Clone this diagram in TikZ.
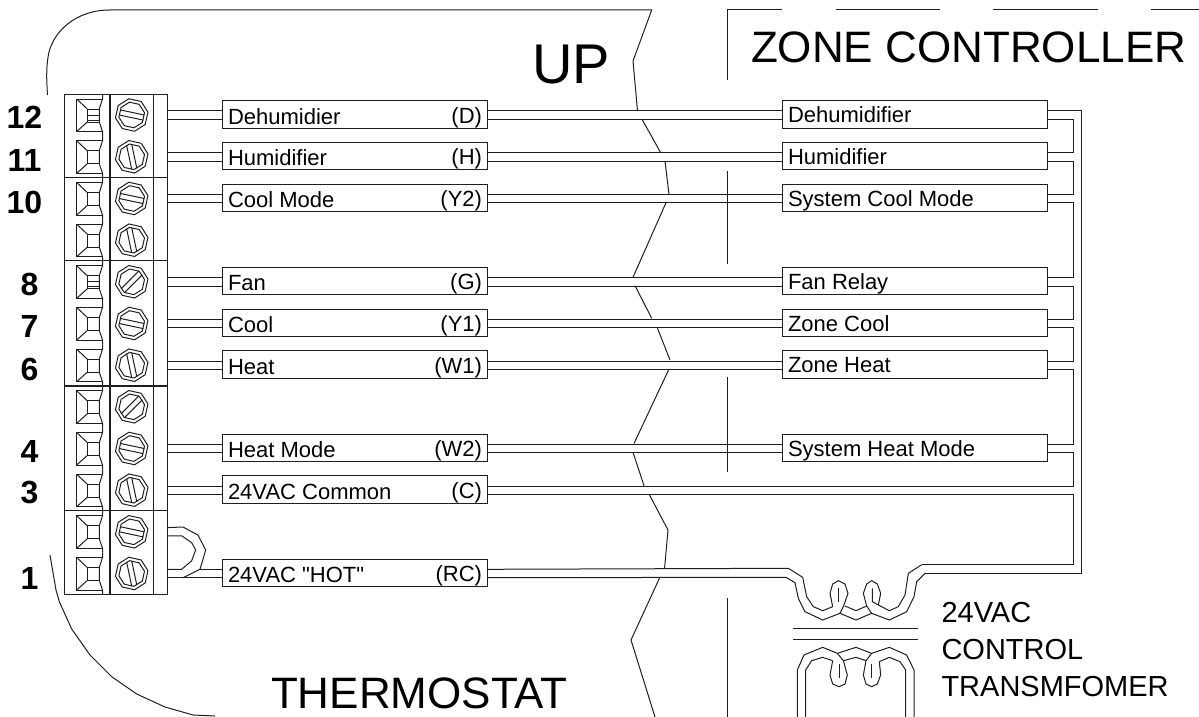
\documentclass[tikz,border=0pt]{standalone}
\usepackage{fontspec}
\setmainfont[Ligatures=TeXOff]{Liberation Sans}
\usetikzlibrary{calc}
\definecolor{ink}{gray}{0.12}
\tikzset{
  x=1pt,y=-1pt,
  every path/.style={line width=1pt,line join=miter},
  lbox/.style={draw=ink,line width=1pt,minimum width=265pt,minimum height=27.5pt,inner sep=0pt,outer sep=0pt},
  lab/.style={inner sep=0pt,outer sep=0pt,text=black,font=\fontsize{22}{24}\selectfont},
  big/.style={inner sep=0pt,outer sep=0pt,text=black,font=\fontsize{44}{48}\selectfont},
  xfmr/.style={inner sep=0pt,outer sep=0pt,text=black,font=\fontsize{29}{32}\selectfont},
  num/.style={inner sep=0pt,outer sep=0pt,text=black,font=\fontsize{32}{34}\selectfont\bfseries},
  screw/.pic={
    \draw[rotate=10] (0:16.5)--(45:16.5)--(90:16.5)--(135:16.5)--(180:16.5)--(225:16.5)--(270:16.5)--(315:16.5)--cycle;
    \draw[rotate=10] (0:13)--(45:13)--(90:13)--(135:13)--(180:13)--(225:13)--(270:13)--(315:13)--cycle;
    \draw[rotate=#1] (-12.5,-2.6)--(12.5,-2.6) (-12.5,2.6)--(12.5,2.6);
  },
  cell/.pic={
    \draw (102.5,-16)--(76.7,-16)--(76.7,16.5)--(102.5,16.5);
    \draw (102.5,-20.8)--(102.5,-16)--(99.3,-6)--(99.3,7)--(102.5,16.5)--(102.5,20.8);
    \draw (99.3,-6)--(87.3,-6)--(87.3,7)--(99.3,7);
    \draw (76.7,-16)--(87.3,-6) (76.7,16.5)--(87.3,7);
  }
}
\begin{document}
\begin{tikzpicture}[color=ink]
\useasboundingbox (0,0) rectangle (1199,717);

% thermostat outline
\draw (110,10)--(651.7,10)--(633,61)--(637.5,111);
\draw (47.5,95) .. controls (46.5,80) and (46,65) .. (49,52) .. controls (54,32) and (75,10) .. (110,10);
\draw (50,555)--(56,590)--(59.3,601.7)--(71.7,629)--(90,655)--(111.7,676.7)--(136.7,694)--(165,707)--(193,715)--(215,716);
% break line
\draw (642,119.3)--(660.7,152.7);
\draw (665,161)--(669,194.3);
\draw (666,202.7)--(633,277.3);
\draw (635,285.7)--(651.7,318.3);
\draw (657,327)--(670,360);
\draw (669,369)--(634,443.5);
\draw (633,452.3)--(644,485.7);
\draw (649,494)--(668,530)--(664.5,569);
\draw (660,577)--(631,640)--(655,717);
% zone controller edge
\draw (782,10)--(727,10)--(727,80);
\draw (835.5,10)--(940,10);
\draw (993,10)--(1098,10);
\draw (1151,10)--(1199,10);
\draw (727,171)--(727,264);
\draw (727,377)--(727,472);
\draw (727,598)--(727,717);

% terminal block
\node[draw=ink,line width=1pt,minimum width=103pt,minimum height=500pt,inner sep=0pt] (tb) at (115.5,344.2) {};
\draw[line width=1.3pt] (110,94.2)--(110,594.2);
\draw (153.7,94.2)--(153.7,594.2);
\foreach \d in {177.7,260.7,386,510.7}{\draw[line width=1.2pt] (64,\d)--(167,\d);}
\foreach \y/\a in {115/-12,156.8/-78,198.5/-12,240.2/-78,281.8/45,323.5/-12,365.2/-78,406.8/45,448.5/-12,490.2/-78,531.8/-12,573.5/-78}{
  \pic at (0,\y) {cell};
  \pic at (131.7,\y) {screw=\a};
}
\draw (87.3,115)--(99.3,115) (87.3,120)--(99.3,120);
\draw (87.3,281.8)--(99.3,281.8) (87.3,286.8)--(99.3,286.8);

% terminal numbers
\node[num] (n12) at (24.5,117) {12};
\node[num] (n11) at (24.5,160) {11};
\node[num] (n10) at (24.5,202) {10};
\node[num] (n8) at (29.5,284) {8};
\node[num] (n7) at (29.5,326) {7};
\node[num] (n6) at (29.5,369) {6};
\node[num] (n4) at (29.5,451) {4};
\node[num] (n3) at (29.5,493) {3};
\node[num] (n1) at (29.5,578) {1};

% left boxes with labels
\foreach \n/\y/\t/\c in {12/115/Dehumidier/(D),11/156.8/Humidifier/(H),10/198.5/Cool Mode/(Y2),8/281.8/Fan/(G),7/323.5/Cool/(Y1),6/365.2/Heat/(W1),4/448.5/Heat Mode/(W2),3/490.2/24VAC Common/(C),1/573.5/24VAC "HOT"/(RC)}{
  \coordinate (t\n) at (167,\y-0.6);
  \node[lbox] (l\n) at (354.5,\y-0.6) {};
  \node[lab,anchor=base west] (lt\n) at (228,\y+9) {\t};
  \node[lab,anchor=base east] (lc\n) at (482,\y+8) {\c};
}
% right boxes
\foreach \n/\y/\t in {12/115/Dehumidifier,11/156.8/Humidifier,10/198.5/System Cool Mode,8/281.8/Fan Relay,7/323.5/Zone Cool,6/365.2/Zone Heat,4/448.5/System Heat Mode}{
  \node[lbox] (r\n) at (914.5,\y-0.6) {};
  \node[lab,anchor=base west] (rt\n) at (788,\y+7.5) {\t};
  \draw ([yshift=3.6pt]l\n.east)--([yshift=3.6pt]r\n.west);
  \draw ([yshift=-4.8pt]l\n.east)--([yshift=-4.8pt]r\n.west);
}
% block to left boxes
\foreach \n in {12,11,10,8,7,6,4,3}{
  \draw ([yshift=3.6pt]t\n)--([yshift=3.6pt]l\n.west);
  \draw ([yshift=-4.8pt]t\n)--([yshift=-4.8pt]l\n.west);
}
% jumper and row 1
\coordinate (j2) at (167,531.2);
\coordinate (j1) at (200,569.3);
\draw ([yshift=3.6pt]j2)--(183,527)--(198,535)--(205.7,550)--(j1)--(183,577.7);
\draw ([yshift=-4.8pt]j2)--(181.7,535.8)--(191.7,542.7)--(195.7,550)--(191.7,560.7)--(181.7,569.3)--([yshift=3.6pt]t1);
\draw (j1)--(l1.west |- j1);
\draw ([yshift=-4.8pt]t1)--([yshift=-4.8pt]l1.west);

% common bus
\draw ([yshift=-4.8pt]r12.east)--++(26,0)|-([yshift=3.6pt]r11.east);
\draw ([yshift=-4.8pt]r11.east)--++(26,0)|-([yshift=3.6pt]r10.east);
\draw ([yshift=-4.8pt]r10.east)--++(26,0)|-([yshift=3.6pt]r8.east);
\draw ([yshift=-4.8pt]r8.east)--++(26,0)|-([yshift=3.6pt]r7.east);
\draw ([yshift=-4.8pt]r7.east)--++(26,0)|-([yshift=3.6pt]r6.east);
\draw ([yshift=-4.8pt]r6.east)--++(26,0)|-([yshift=3.6pt]r4.east);
\draw ([yshift=-4.8pt]r4.east)--++(26,0)|-([yshift=3.6pt]l3.east);

% transformer wires
\coordinate (tru) at (921.7,564.7);
\coordinate (trl) at (925,573.3);
\coordinate (tlu) at (788.3,568.3);
\coordinate (tll) at (786,577.3);
\draw ([yshift=-4.8pt]l3.east)--++(586,0)|-(tru);
\draw ([yshift=3.6pt]r12.east)--++(34,0)|-(trl);
\draw ([yshift=3.6pt]l1.east)--(tlu);
\draw ([yshift=-4.8pt]l1.east)--(tll);

% transformer
\begin{scope}[shift={(760,560)},scale=0.33333]
 \draw (tlu)--(128,52)--(140,110)--(160,140)--(188,152)--(218,140);
 \draw (tll)--(105,68)--(115,115)--(135,155)--(188,180)--(240,160)--(288,180)--(335,160)--(388,180)--(440,155)--(462,110)--(470,65)--(trl);
 \draw (tru)--(445,40)--(435,105)--(415,140)--(388,152)--(355,135);
 \draw (255,138)--(288,152)--(320,138);
 \draw (218,140)--(210,100)--(218,72)--(235,62)--(255,72)--(264,100)--(250,140)--(240,160);
 \draw (236,85)--(236,125);
 \draw (335,160)--(320,138)--(310,100)--(320,72)--(335,62)--(352,72)--(362,100)--(355,135);
 \draw (337,85)--(337,125)--(355,135);
 \draw (100,205)--(473,205) (100,237)--(473,237);
 \draw (112,471)--(112,330)--(132,285)--(188,262)--(232,280)--(288,262)--(335,280)--(388,262)--(440,285)--(462,330)--(462,471);
 \draw (137,471)--(137,330)--(155,302)--(188,292)--(218,302);
 \draw (437,471)--(437,330)--(420,305)--(388,292)--(358,305);
 \draw (250,302)--(288,292)--(318,302);
 \draw (232,280)--(250,302)--(262,345)--(255,372)--(237,380)--(218,372)--(210,345)--(218,302);
 \draw (237,312)--(237,355);
 \draw (335,280)--(318,302)--(310,345)--(318,372)--(335,380)--(352,372)--(362,345)--(358,305);
 \draw (335,312)--(335,355);
\end{scope}

% titles
\node[inner sep=0pt,outer sep=0pt,text=black,font=\fontsize{56}{60}\selectfont,anchor=base west] (up) at (532,83.5) {UP};
\node[big,anchor=base west] (zc) at (751,62.7) {ZONE CONTROLLER};
\node[big,anchor=base west] (th) at (271,708) {THERMOSTAT};
\node[xfmr,anchor=base west] (x1) at (941.5,622.5) {24VAC};
\node[xfmr,anchor=base west] (x2) at (941.5,659.5) {CONTROL};
\node[xfmr,anchor=base west] (x3) at (941.5,696.5) {TRANSMFOMER};
\end{tikzpicture}
\end{document}
